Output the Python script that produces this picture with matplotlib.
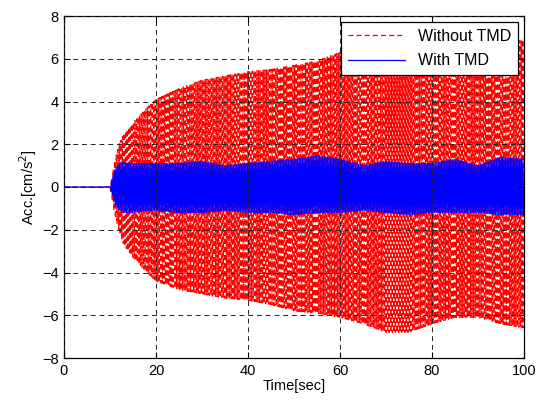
import numpy as np
import matplotlib
matplotlib.use("Agg")
import matplotlib.pyplot as plt

plt.rcParams['font.family'] = ['Liberation Sans', 'DejaVu Sans']

# Envelope values (time [s], acceleration [cm/s^2])
env_t = [10, 11, 12, 13, 15, 18, 20, 25, 30, 35, 40, 45, 50, 55, 60, 65, 70, 75, 80, 85, 90, 95, 100]
red_up = [0.0, 1.2, 2.0, 2.5, 3.0, 3.7, 4.1, 4.6, 5.0, 5.2, 5.4, 5.5, 5.7, 5.9, 6.3, 6.5, 6.6, 6.6, 6.8, 6.6, 6.4, 6.6, 6.9]
red_lo = [0.0, -1.3, -2.1, -2.7, -3.3, -4.0, -4.4, -4.8, -5.0, -5.2, -5.3, -5.5, -5.8, -5.9, -6.1, -6.4, -6.8, -6.8, -6.4, -6.1, -6.1, -6.4, -6.6]
blue_up = [0.0, 0.8, 1.1, 1.15, 1.1, 1.1, 1.1, 1.1, 1.2, 1.0, 1.1, 1.2, 1.3, 1.45, 1.3, 1.0, 1.2, 1.1, 1.1, 1.3, 1.0, 1.4, 1.3]
blue_lo = [0.0, -0.8, -1.1, -1.2, -1.2, -1.1, -1.1, -1.2, -1.2, -1.1, -1.2, -1.2, -1.3, -1.2, -1.2, -1.1, -1.2, -1.3, -1.2, -1.2, -1.2, -1.3, -1.3]

half_period = 0.17  # s, spacing between successive peaks of the response
x_ticks = [0, 20, 40, 60, 80, 100]
y_ticks = [-8, -6, -4, -2, 0, 2, 4, 6, 8]


def peak_series(up, lo):
    tp = np.arange(10, 100 + 1e-9, half_period)
    u = np.interp(tp, env_t, up)
    l = np.interp(tp, env_t, lo)
    vals = np.where(np.arange(len(tp)) % 2 == 0, u, l)
    t = np.concatenate([[0, 10], tp])
    v = np.concatenate([[0, 0], vals])
    return t, v


fig = plt.figure(figsize=(5.46, 4.01), dpi=100)
ax = fig.add_axes([64/546, 1-358/401, (524-64)/546, (358-16)/401])

tr, vr = peak_series(red_up, red_lo)
tb, vb = peak_series(blue_up, blue_lo)
ax.plot(tr, vr, color='red', lw=0.9, dashes=(4, 2.5), label='Without TMD')
ax.plot(tb, vb, color='blue', lw=0.9, label='With TMD')

ax.set_xlim(0, 100)
ax.set_ylim(-8, 8)
ax.set_xticks(x_ticks)
ax.set_yticks(y_ticks)
ax.grid(True, color='#222222', linestyle=(0, (5, 4)), linewidth=0.7)
ax.set_axisbelow(False)
ax.tick_params(direction='in', top=True, right=True, labelsize=10.5, length=4, width=0.8, pad=4)
for s in ax.spines.values():
    s.set_linewidth(0.9)
ax.set_xlabel('Time[sec]', fontsize=10.5, labelpad=1)
ax.set_ylabel('Acc.[cm/s$^2$]', fontsize=10.5, labelpad=2)
leg = ax.legend(loc='upper right', fontsize=11.5, fancybox=False, edgecolor='black',
                framealpha=1, borderaxespad=0.4, handlelength=3.6, labelspacing=0.6,
                borderpad=0.4)
leg.get_frame().set_linewidth(0.9)

fig.savefig('out.png', dpi=100)
